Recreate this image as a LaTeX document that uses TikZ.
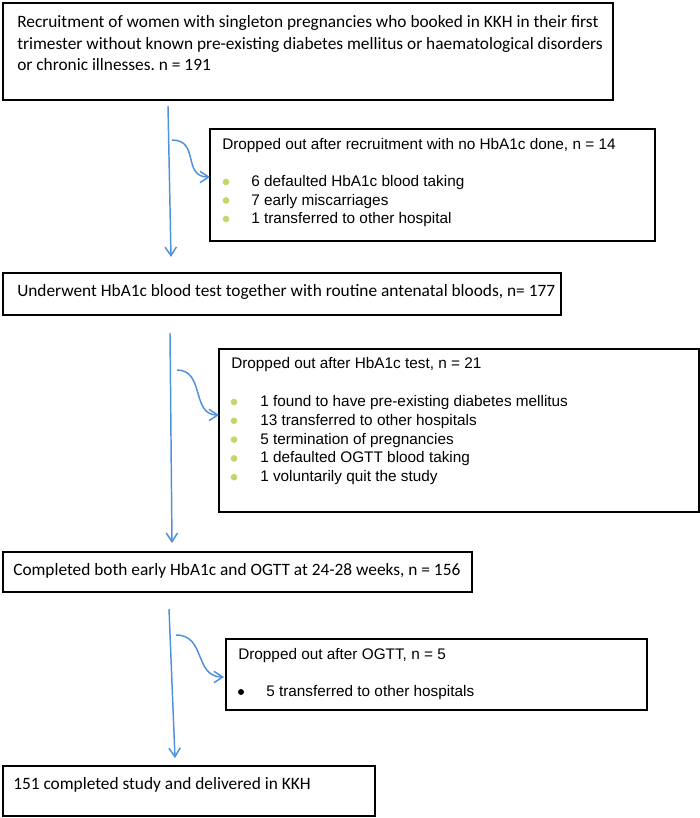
\documentclass[tikz,border=0pt]{standalone}
\usepackage{fontspec}
\setmainfont{Carlito}
\newfontfamily\arialfont{Liberation Sans}
\usetikzlibrary{arrows.meta,fit}
\definecolor{flowblue}{RGB}{79,145,222}
\definecolor{bulletgreen}{RGB}{196,214,104}
\frenchspacing
\tikzset{
  box/.style={draw=black,line width=1.1pt,inner sep=0pt,fill=none},
  ctext/.style={anchor=base west,inner sep=0pt,font=\fontsize{13}{15.6}\selectfont},
  atext/.style={anchor=base west,inner sep=0pt,font=\arialfont\fontsize{11.5}{14}\selectfont},
  flow/.style={draw=flowblue,line width=1.1pt,-{Straight Barb[length=6.5pt,width=8.5pt,line width=1.1pt]}},
  gdot/.style={circle,fill=bulletgreen,inner sep=0pt,minimum size=5pt},
  kdot/.style={circle,fill=black,inner sep=0pt,minimum size=4.5pt}
}
\begin{document}
\begin{tikzpicture}[x=0.75pt,y=-0.75pt]
\useasboundingbox[fill=white] (0,0) rectangle (700,818);

% Box 1
\node[box,fit={(3,3)(613,100)}] (b1) {};
\node[ctext] (b1l1) at (17,27) {Recruitment of women with singleton pregnancies who booked in KKH in their first};
\node[ctext] (b1l2) at (17,49) {trimester without known pre-existing diabetes mellitus or haematological disorders};
\node[ctext] (b1l3) at (17,70.5) {or chronic illnesses. n = 191};

% Drop 1
\node[box,fit={(210,129)(655,241)}] (d1) {};
\node[atext] (d1t) at (222,149) {Dropped out after recruitment with no HbA1c done, n = 14};
\node[gdot] (d1b1) at (226,182) {};
\node[atext] (d1l1) at (251,186.5) {6 defaulted HbA1c blood taking};
\node[gdot] (d1b2) at (226,200.5) {};
\node[atext] (d1l2) at (251,205) {7 early miscarriages};
\node[gdot] (d1b3) at (226,219) {};
\node[atext] (d1l3) at (251,223.5) {1 transferred to other hospital};

% Box 3
\node[box,fit={(3,273)(561,315)}] (b3) {};
\node[ctext] (b3t) at (17,296) {Underwent HbA1c blood test together with routine antenatal bloods, n= 177};

% Drop 2
\node[box,fit={(219,349)(699,512)}] (d2) {};
\node[atext] (d2t) at (231,368.5) {Dropped out after HbA1c test, n = 21};
\node[gdot] (d2b1) at (234,402) {};
\node[atext] (d2l1) at (260,406.5) {1 found to have pre-existing diabetes mellitus};
\node[gdot] (d2b2) at (234,420.8) {};
\node[atext] (d2l2) at (260,425.3) {13 transferred to other hospitals};
\node[gdot] (d2b3) at (234,439.6) {};
\node[atext] (d2l3) at (260,444.1) {5 termination of pregnancies};
\node[gdot] (d2b4) at (234,458.4) {};
\node[atext] (d2l4) at (260,462.9) {1 defaulted OGTT blood taking};
\node[gdot] (d2b5) at (234,477.2) {};
\node[atext] (d2l5) at (260,481.7) {1 voluntarily quit the study};

% Box 5
\node[box,fit={(3,552)(472,592)}] (b5) {};
\node[ctext] (b5t) at (13,575) {Completed both early HbA1c and OGTT at 24-28 weeks, n = 156};

% Drop 3
\node[box,fit={(226,639)(647,710)}] (d3) {};
\node[atext] (d3t) at (238,659.5) {Dropped out after OGTT, n = 5};
\node[kdot] (d3b1) at (241,692) {};
\node[atext] (d3l1) at (266,696.5) {5 transferred to other hospitals};

% Box 6
\node[box,fit={(3,766)(375,816)}] (b6) {};
\node[ctext] (b6t) at (13,789) {151 completed study and delivered in KKH};

% Main arrows
\coordinate (a1s) at (168,106);
\coordinate (a1e) at (171,257);
\coordinate (a2s) at (170,333);
\coordinate (a2e) at (172,543);
\coordinate (a3s) at (169,609);
\coordinate (a3e) at (175,758);
\draw[flow] (a1s) -- (a1e);
\draw[flow] (a2s) -- (a2e);
\draw[flow] (a3s) -- (a3e);

% Curved side arrows
\coordinate (c1s) at (172,140);
\coordinate (c1e) at (210,177);
\coordinate (c2s) at (177,370);
\coordinate (c2e) at (219,415);
\coordinate (c3s) at (176,635);
\coordinate (c3e) at (224,677);
\draw[flow] (c1s) .. controls +(28,0) and +(-28,0) .. (c1e);
\draw[flow] (c2s) .. controls +(28,0) and +(-28,0) .. (c2e);
\draw[flow] (c3s) .. controls +(30,0) and +(-30,0) .. (c3e);
\end{tikzpicture}
\end{document}
